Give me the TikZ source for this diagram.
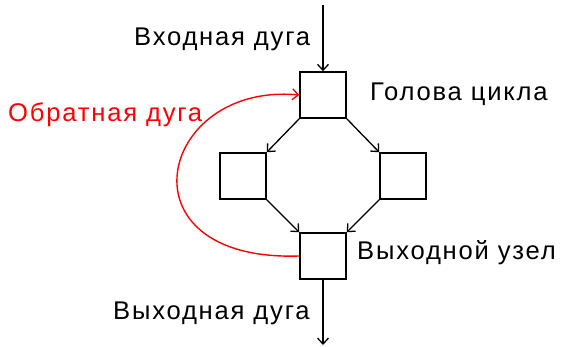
\documentclass[tikz,border=0pt]{standalone}
\usepackage{fontspec}
\setmainfont{Liberation Sans}[LetterSpace=7]
\usetikzlibrary{arrows.meta}
\begin{document}
\begin{tikzpicture}[x=1pt,y=-1pt,
  blk/.style={draw,line width=1.5pt,minimum width=46pt,minimum height=46pt,inner sep=0pt},
  edge/.style={line width=1.3pt,-{Straight Barb[length=6pt,width=11pt,line width=1.3pt]}},
  back/.style={edge,red,line width=1.4pt},
  lbl/.style={inner sep=0pt,anchor=base west,font=\fontsize{25.6}{30}\selectfont}]
\useasboundingbox (0,0) rectangle (563,347);
% blocks of the loop
\node[blk] (head) at (323,95) {};
\node[blk] (left) at (243,176) {};
\node[blk] (right) at (403,176) {};
\node[blk] (exit) at (323,256) {};
% free ends of the entry and exit arcs
\coordinate (in) at (323,5);
\coordinate (out) at (323,345);
% arcs
\draw[edge] (in) -- (head.north);
\draw[edge] (head.south west) -- (left.north east);
\draw[edge] (head.south east) -- (right.north west);
\draw[edge] (left.south east) -- (exit.north west);
\draw[edge] (right.south west) -- (exit.north east);
\draw[edge] (exit.south) -- (out);
\draw[back] (exit.west) .. controls (116,262) and (158,82) .. (head.west);
% labels
\node[lbl] (tin) at (134,45.5) {Входная дуга};
\node[lbl] (thead) at (370,101) {Голова цикла};
\node[lbl,red] (tback) at (8,122) {Обратная дуга};
\node[lbl] (texit) at (357,260) {Выходной узел};
\node[lbl] (tout) at (113,320) {Выходная дуга};
\end{tikzpicture}
\end{document}
